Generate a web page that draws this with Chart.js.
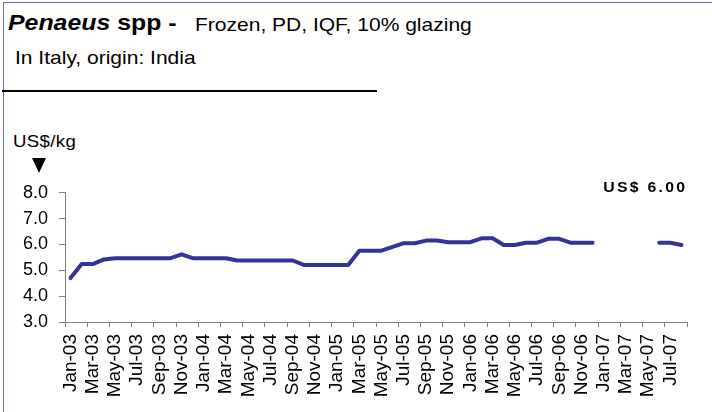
<!DOCTYPE html>
<html lang="en">
<head>
    <meta charset="UTF-8">
    <title>Penaeus spp - Italy, origin India</title>
    <script src="https://cdn.jsdelivr.net/npm/chart.js"></script>
    <style>
        body {
            margin: 0;
            width: 712px;
            height: 412px;
            overflow: hidden;
            background: #fff;
            font-family: "Liberation Sans", Arial, sans-serif;
            position: relative;
        }
        .frame {
            position: absolute;
            left: 3px;
            top: 2px;
            width: 800px;
            height: 500px;
            border-left: 1px solid #6f6fb8;
            border-top: 1px solid #6f6fb8;
        }
        .txt {
            position: absolute;
            white-space: nowrap;
            transform-origin: left top;
            transform: scaleX(1.13);
            color: #000;
        }
        .titre { left: 8px; top: 12px; font-size: 22px; line-height: 22px; font-weight: bold; }
        .sous { left: 195px; top: 16px; font-size: 18.6px; line-height: 18.6px; }
        .origine { left: 15px; top: 49px; font-size: 18.6px; line-height: 18.6px; }
        .unite { left: 13px; top: 133px; font-size: 16.5px; line-height: 16.5px; letter-spacing: 0.3px; }
        .prix {
            right: 25px; top: 180px; font-size: 14px; line-height: 14px;
            font-weight: bold; letter-spacing: 2px; transform-origin: right top;
        }
        .trait { position: absolute; left: 2px; top: 90px; width: 375px; height: 2px; background: #000; }
        .fleche {
            position: absolute; left: 32px; top: 158px; width: 0; height: 0;
            border-left: 7.5px solid transparent;
            border-right: 7.5px solid transparent;
            border-top: 15px solid #000;
        }
        .zone { position: absolute; left: 0; top: 171px; width: 712px; height: 241px; }
    </style>
</head>
<body>
    <div class="frame"></div>
    <div class="txt titre"><i>Penaeus</i> spp -</div>
    <div class="txt sous">Frozen, PD, IQF, 10% glazing</div>
    <div class="txt origine">In Italy, origin: India</div>
    <div class="trait"></div>
    <div class="txt unite">US$/kg</div>
    <div class="fleche"></div>

    <div class="zone"><canvas id="graphePrix"></canvas></div>
    <div class="txt prix">US$ 6.00</div>

    <script>
        // Mois (un point par mois, étiquette un mois sur deux)
        const mois = [
            'Jan-03', 'Feb-03', 'Mar-03', 'Apr-03', 'May-03', 'Jun-03', 'Jul-03', 'Aug-03', 'Sep-03', 'Oct-03', 'Nov-03', 'Dec-03',
            'Jan-04', 'Feb-04', 'Mar-04', 'Apr-04', 'May-04', 'Jun-04', 'Jul-04', 'Aug-04', 'Sep-04', 'Oct-04', 'Nov-04', 'Dec-04',
            'Jan-05', 'Feb-05', 'Mar-05', 'Apr-05', 'May-05', 'Jun-05', 'Jul-05', 'Aug-05', 'Sep-05', 'Oct-05', 'Nov-05', 'Dec-05',
            'Jan-06', 'Feb-06', 'Mar-06', 'Apr-06', 'May-06', 'Jun-06', 'Jul-06', 'Aug-06', 'Sep-06', 'Oct-06', 'Nov-06', 'Dec-06',
            'Jan-07', 'Feb-07', 'Mar-07', 'Apr-07', 'May-07', 'Jun-07', 'Jul-07', 'Aug-07'
        ];

        // Prix US$/kg (null = pas de cotation)
        const prix = [
            4.70, 5.24, 5.24, 5.42, 5.47, 5.47, 5.47, 5.47, 5.47, 5.47, 5.62, 5.47,
            5.47, 5.47, 5.47, 5.38, 5.38, 5.38, 5.38, 5.38, 5.38, 5.21, 5.21, 5.21,
            5.21, 5.21, 5.76, 5.76, 5.76, 5.91, 6.05, 6.05, 6.15, 6.15, 6.09, 6.09,
            6.09, 6.24, 6.24, 5.98, 5.98, 6.07, 6.07, 6.22, 6.22, 6.07, 6.07, 6.07,
            null, null, null, null, null, 6.07, 6.07, 5.98
        ];

        const yMin = 3;
        const yMax = 8;
        const gris = '#808080';

        new Chart(document.getElementById('graphePrix'), {
            type: 'line',
            data: {
                labels: mois,
                datasets: [{
                    label: 'US$/kg',
                    data: prix,
                    borderColor: '#333399',
                    borderWidth: 4,
                    borderCapStyle: 'round',
                    borderJoinStyle: 'round',
                    pointRadius: 0,
                    tension: 0,
                    spanGaps: false
                }]
            },
            options: {
                responsive: true,
                maintainAspectRatio: false,
                animation: false,
                layout: { padding: { left: 0, right: 25, top: 4, bottom: 0 } },
                plugins: {
                    legend: { display: false },
                    tooltip: { enabled: false }
                },
                scales: {
                    x: {
                        type: 'category',
                        offset: true,
                        afterFit: (scale) => { scale.height = 90; },
                        border: { display: true, color: gris, width: 1 },
                        grid: {
                            offset: true,
                            drawOnChartArea: false,
                            drawTicks: true,
                            tickLength: 5,
                            color: (ctx) => (ctx.index === undefined || ctx.index % 2 === 0) ? gris : 'rgba(0,0,0,0)'
                        },
                        ticks: {
                            autoSkip: false,
                            maxRotation: 90,
                            minRotation: 90,
                            padding: 7,
                            color: '#000',
                            font: { family: 'Liberation Sans', size: 19 },
                            callback: (v, i) => i % 2 === 0 ? mois[i] : ''
                        }
                    },
                    y: {
                        min: yMin,
                        max: yMax,
                        afterFit: (scale) => { scale.width = 65; },
                        border: { display: true, color: gris, width: 1 },
                        grid: {
                            drawOnChartArea: false,
                            drawTicks: true,
                            tickLength: 6,
                            color: gris
                        },
                        ticks: {
                            stepSize: 1,
                            autoSkip: false,
                            padding: 11,
                            color: '#000',
                            font: { family: 'Liberation Sans', size: 18 },
                            callback: (v) => v.toFixed(1)
                        }
                    }
                }
            }
        });
    </script>
</body>
</html>
